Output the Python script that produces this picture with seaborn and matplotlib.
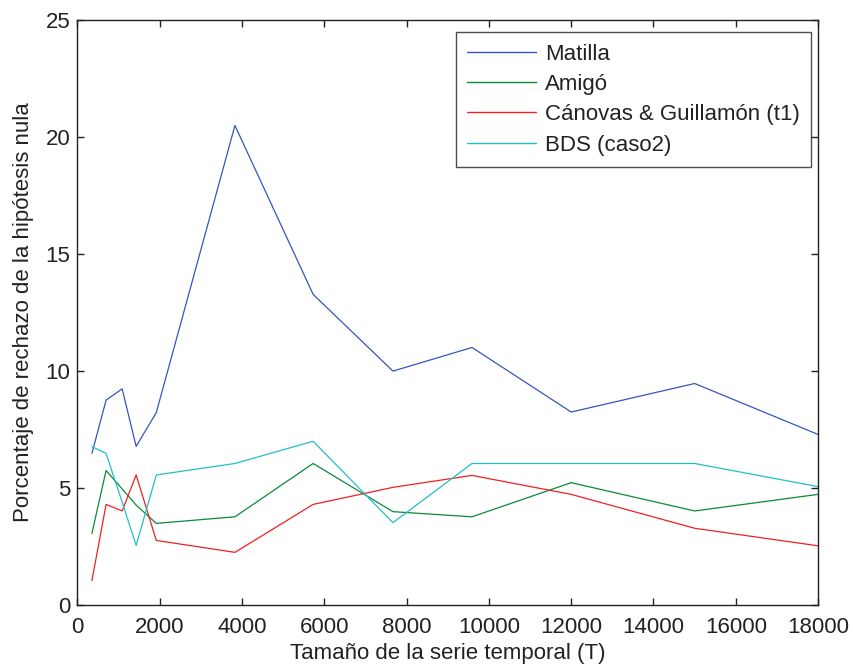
import matplotlib
matplotlib.use("Agg")
import matplotlib.pyplot as plt
import seaborn as sns
import pandas as pd

# Tamaño de la serie (T) y porcentaje de rechazo de cada contraste
T = [355, 700, 1090, 1430, 1920, 3830, 5730, 7670, 9590, 12000, 15000, 18000]
matilla = [6.48, 8.76, 9.24, 6.78, 8.23, 20.5, 13.28, 10.0, 11.01, 8.25, 9.47, 7.29]
amigo = [3.06, 5.75, 4.96, 4.27, 3.49, 3.77, 6.05, 3.99, 3.77, 5.23, 4.02, 4.73]
canovas = [1.04, 4.3, 4.02, 5.56, 2.76, 2.25, 4.3, 5.03, 5.54, 4.73, 3.28, 2.53]
bds = [6.77, 6.48, 4.4, 2.55, 5.56, 6.05, 7.0, 3.52, 6.05, 6.05, 6.05, 5.06]

labels = ["Matilla", "Amigó", "Cánovas & Guillamón (t1)", "BDS (caso2)"]
colors = ["#3555c0", "#0a8a3a", "#f02020", "#20c0c8"]

df = pd.concat([
    pd.DataFrame({"T": T, "pct": vals, "serie": lab})
    for vals, lab in zip([matilla, amigo, canovas, bds], labels)
])

sns.set_theme(style="ticks")
plt.rcParams["font.family"] = ["Liberation Sans", "DejaVu Sans"]
plt.rcParams["text.color"] = "#222222"
plt.rcParams["axes.labelcolor"] = "#222222"
plt.rcParams["xtick.color"] = "#222222"
plt.rcParams["ytick.color"] = "#222222"

FS = 16

fig = plt.figure(figsize=(8.54, 6.66), dpi=100)
ax = fig.add_axes([0.0905, 0.0916, 0.8675, 0.878])

sns.lineplot(data=df, x="T", y="pct", hue="serie", hue_order=labels,
             palette=colors, linewidth=0.9, ax=ax, sort=False)

ax.set_xlim(0, 18000)
ax.set_ylim(0, 25)
ax.set_xticks(range(0, 18001, 2000))
ax.set_yticks(range(0, 26, 5))
ax.tick_params(direction="in", length=5, width=1, labelsize=FS,
               top=True, right=True)
ax.tick_params(axis="x", pad=9)
ax.tick_params(axis="y", pad=5)
for s in ax.spines.values():
    s.set_visible(True)
    s.set_linewidth(1.0)
    s.set_color("#222222")

ax.set_xlabel("Tamaño de la serie temporal (T)", fontsize=FS, labelpad=3)
ax.set_ylabel("Porcentaje de rechazo de la hipótesis nula", fontsize=FS, labelpad=8)

leg = ax.legend(loc="upper right", bbox_to_anchor=(0.9995, 0.9905),
                fontsize=FS, frameon=True, fancybox=False,
                edgecolor="#222222", handlelength=3.1, handletextpad=0.4,
                borderpad=0.5, labelspacing=0.42, borderaxespad=0.3)
leg.get_frame().set_linewidth(1.0)
for line in leg.get_lines():
    line.set_linewidth(1.0)

fig.savefig("out.png", dpi=100)
